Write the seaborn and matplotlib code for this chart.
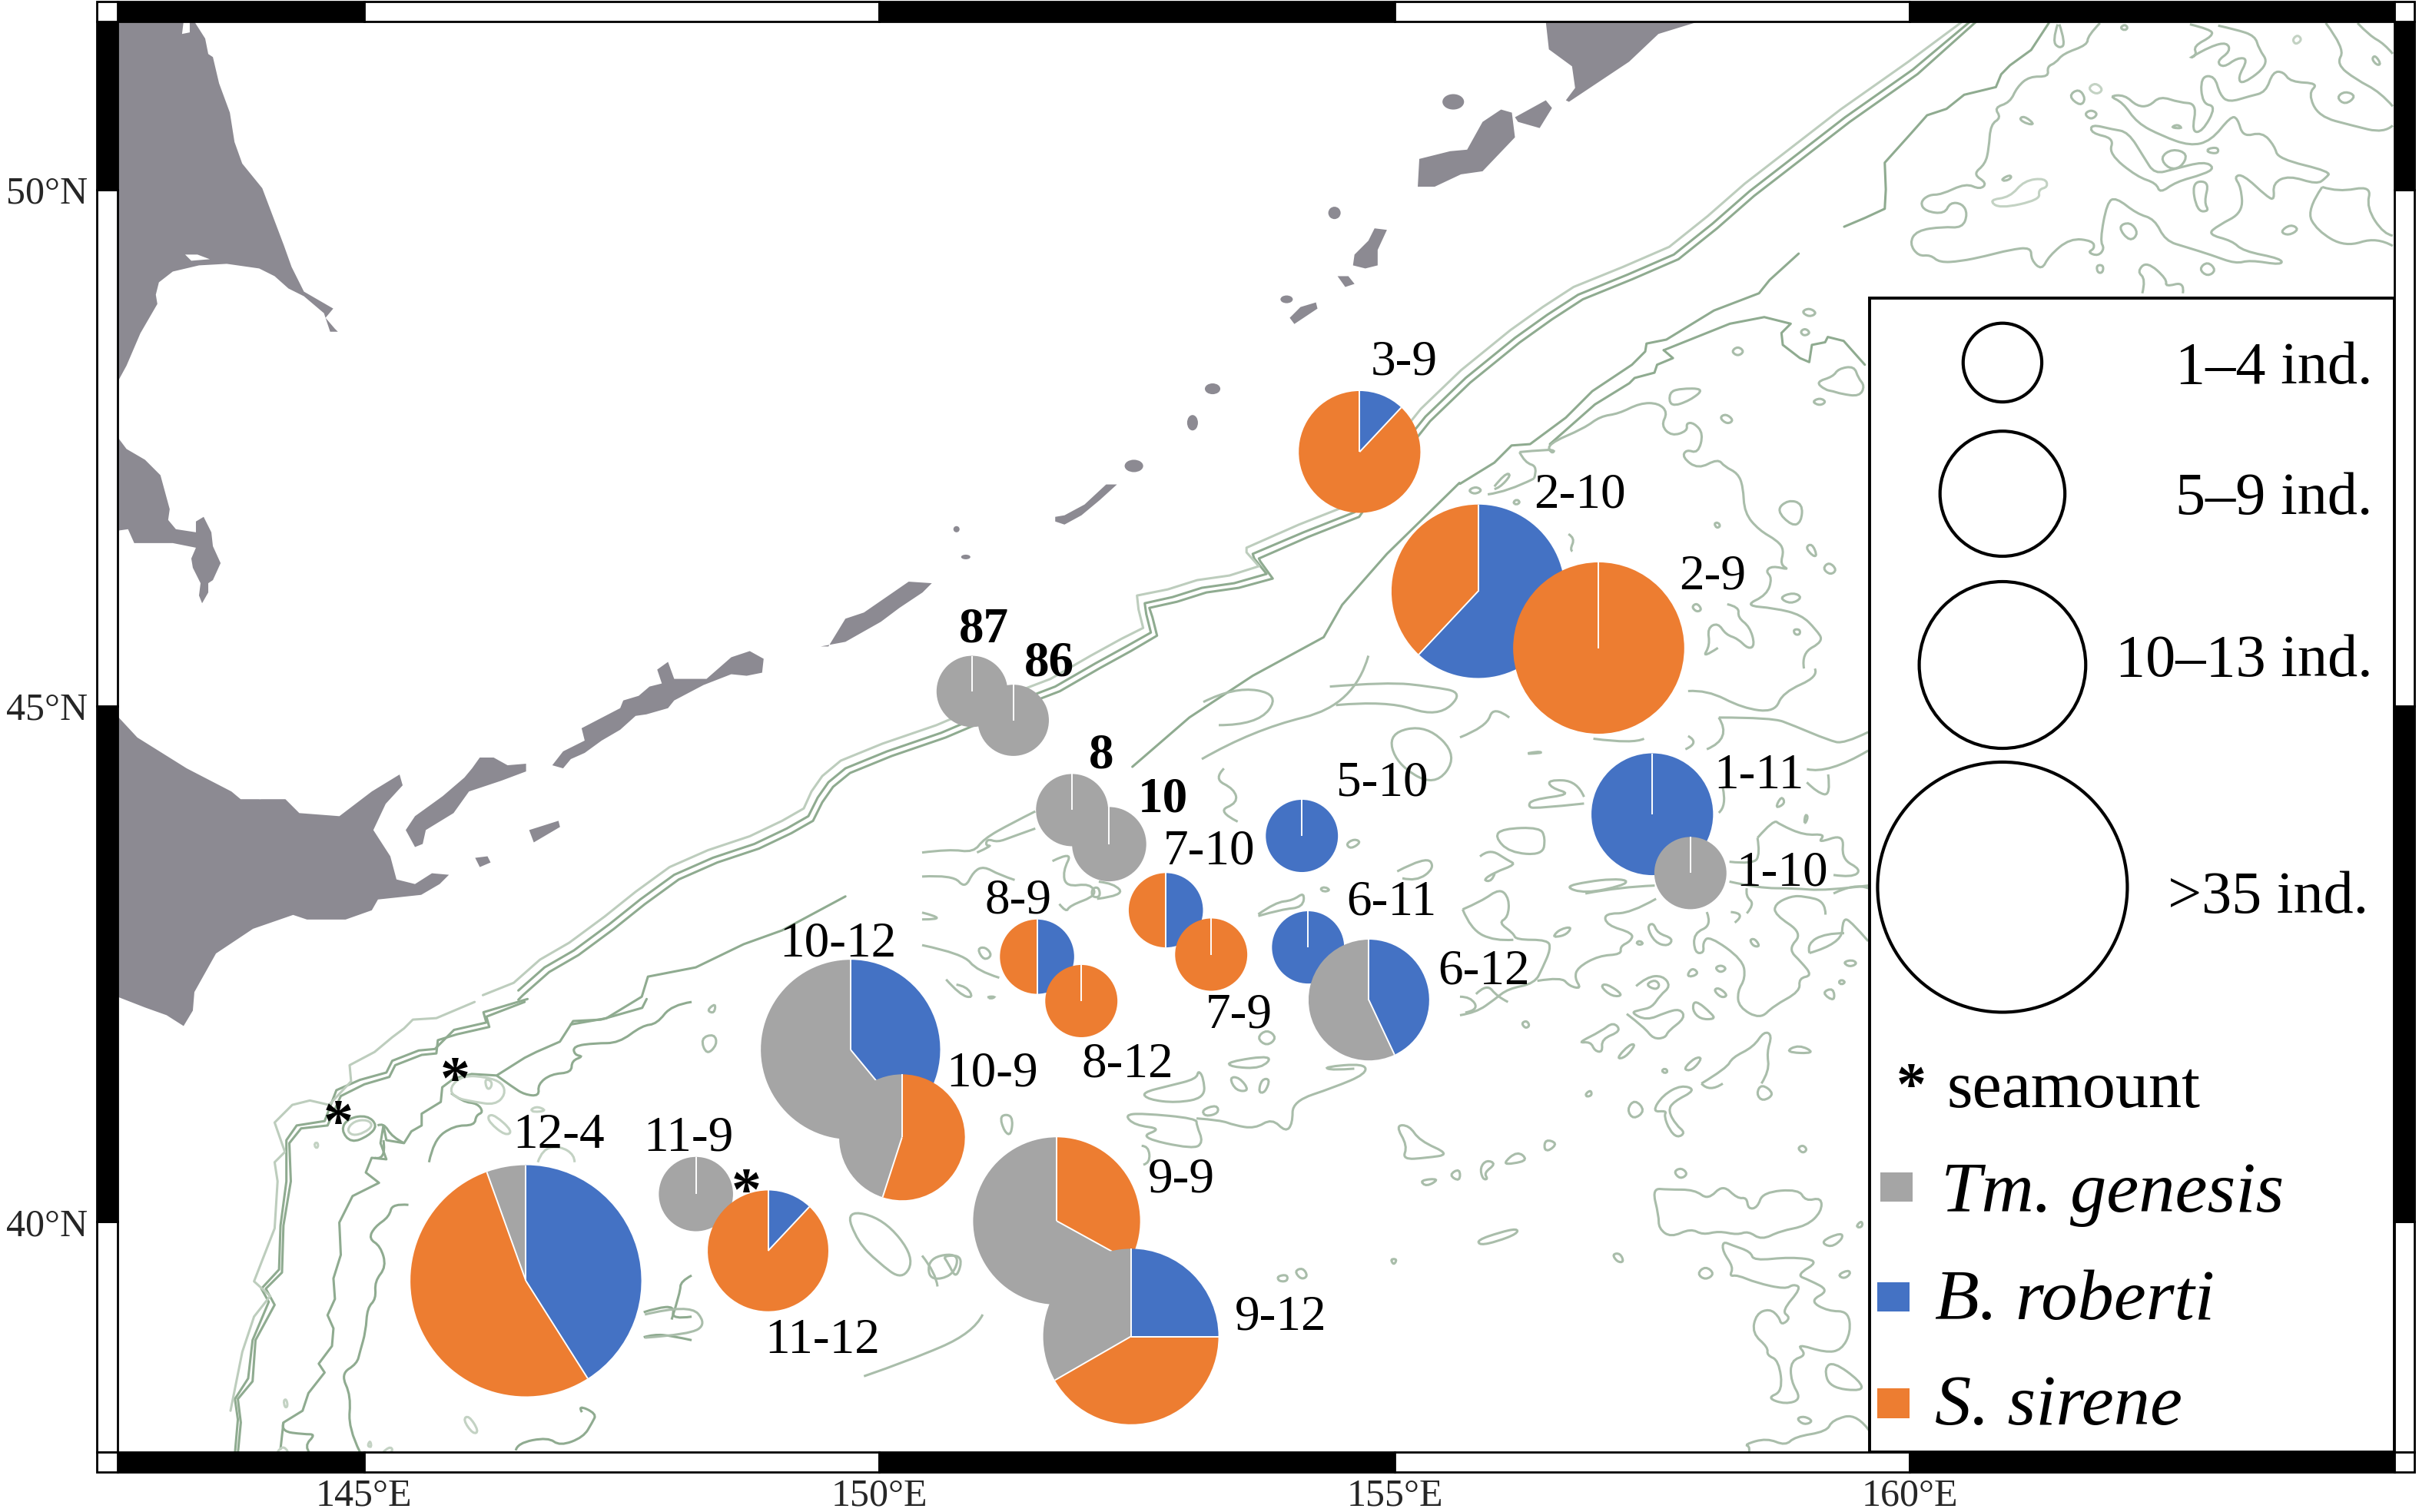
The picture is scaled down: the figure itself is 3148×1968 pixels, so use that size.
# Kuril-Kamchatka station map with species composition pies

import math

import matplotlib
matplotlib.use("Agg")
import matplotlib.pyplot as plt
from matplotlib.patches import Circle, Ellipse, PathPatch, Polygon, Rectangle
from matplotlib.path import Path
import pandas as pd
import seaborn as sns

# ==========================================================
# GEOREFERENCE OF THE DIGITISED OUTLINES (scan px -> degrees)
# ==========================================================

def to_lon(x):
    return 145 + (x - 236) / 66.8

def to_lat(y):
    return 40 + (792 - y) / 66.9

def from_tile(line, tile):
    # tiles were digitised at their own zoom, back to overview scan px
    ox, oy, sx, sy = tile
    return [((ox + x / sx) / 2.0077, (oy + y / sy) / 2.0077) for x, y in line]

def curved_path(line):
    # digitised vertices act as quadratic control points, so corners stay soft
    pts = [(to_lon(x), to_lat(y)) for x, y in line]
    closed = pts[0] == pts[-1] and len(pts) > 3
    if closed:
        pts = pts[:-1]
        mid = lambda a, b: ((a[0] + b[0]) / 2, (a[1] + b[1]) / 2)
        verts = [mid(pts[-1], pts[0])]
        codes = [Path.MOVETO]
        for i, p in enumerate(pts):
            verts += [p, mid(p, pts[(i + 1) % len(pts)])]
            codes += [Path.CURVE3, Path.CURVE3]
        return Path(verts, codes)
    verts = [pts[0]]
    codes = [Path.MOVETO]
    for i in range(1, len(pts) - 1):
        end = pts[i + 1] if i == len(pts) - 2 else ((pts[i][0] + pts[i + 1][0]) / 2, (pts[i][1] + pts[i + 1][1]) / 2)
        verts += [pts[i], end]
        codes += [Path.CURVE3, Path.CURVE3]
    if len(pts) == 2:
        verts.append(pts[1])
        codes.append(Path.LINETO)
    return Path(verts, codes)

# ==========================================================
# STATIONS
# ==========================================================

STATION = ["3-9", "2-10", "2-9", "87", "86", "8", "10", "5-10", "1-11", "1-10", "7-10", "7-9",
           "8-9", "8-12", "6-11", "6-12", "10-12", "10-9", "12-4", "11-9", "11-12", "9-9", "9-12"]
LON = [154.66, 155.81, 156.98, 150.90, 151.30, 151.87, 152.23, 154.10, 157.50, 157.87, 152.78, 153.22,
       151.53, 151.96, 154.16, 154.75, 149.72, 150.22, 146.57, 148.22, 148.92, 151.72, 152.44]
LAT = [47.46, 46.11, 45.56, 45.14, 44.86, 43.99, 43.66, 43.74, 43.95, 43.38, 43.02, 42.59,
       42.57, 42.14, 42.66, 42.15, 41.67, 40.82, 39.43, 40.27, 39.72, 40.01, 38.89]
RADIUS = [0.59, 0.84, 0.83, 0.345, 0.345, 0.35, 0.36, 0.35, 0.59, 0.35, 0.36, 0.35,
          0.36, 0.35, 0.35, 0.585, 0.87, 0.61, 1.12, 0.36, 0.585, 0.81, 0.85]
B_ROBERTI = [0.12, 0.62, 0, 0, 0, 0, 0, 1, 1, 0, 0.5, 0,
             0.5, 0, 1, 0.43, 0.39, 0, 0.41, 0, 0.12, 0, 0.25]
S_SIRENE = [0.88, 0.38, 1, 0, 0, 0, 0, 0, 0, 0, 0.5, 1,
            0.5, 1, 0, 0, 0, 0.55, 0.535, 0, 0.88, 0.33, 0.417]
TM_GENESIS = [0, 0, 0, 1, 1, 1, 1, 0, 0, 1, 0, 0,
              0, 0, 0, 0.57, 0.61, 0.45, 0.055, 1, 0, 0.67, 0.333]

BOLD_LABELS = ["87", "86", "8", "10"]
LABEL_SCAN = [(910, 235), (1024, 321), (1110, 374), (638, 408), (680, 430), (714, 490), (754, 518),
              (896, 508), (1140, 503), (1155, 566), (784, 552), (803, 658), (660, 584), (731, 690),
              (902, 585), (962, 630), (543, 612), (643, 696), (362, 736), (446, 738), (533, 869),
              (766, 765), (830, 854)]

SEAMOUNT_LON = [144.75, 145.88, 148.71]
SEAMOUNT_LAT = [41.06, 41.48, 40.40]

LON_TICKS = [145, 150, 155, 160]
LAT_TICKS = [40, 45, 50]

BLUE = "#4472C4"
ORANGE = "#ED7D31"
GRAY = "#A5A5A5"
LAND = "#8C8A92"

# ==========================================================
# COASTLINES (scan px)
# ==========================================================

LAND_OUTLINES = [
    [(76, 14), (126, 14), (133, 25), (135, 35), (138, 37), (142, 54), (149, 73), (152, 92), (157, 106),
     (170, 122), (184, 159), (189, 173), (197, 189), (216, 200), (211, 206), (217, 213), (219, 215),
     (214, 215), (210, 203), (197, 192), (187, 187), (178, 179), (168, 174), (147, 171), (129, 172),
     (112, 176), (103, 183), (101, 191), (102, 197), (91, 216), (82, 237), (76, 248)],
    [(76, 283), (82, 291), (94, 298), (104, 308), (110, 330), (109, 337), (114, 343), (127, 345),
     (127, 338), (132, 335), (137, 345), (138, 354), (143, 365), (138, 376), (135, 378), (135, 384),
     (131, 391), (129, 386), (130, 378), (125, 368), (124, 362), (127, 355), (112, 352), (87, 352),
     (83, 343), (76, 344)],
    [(76, 464), (89, 478), (121, 498), (150, 513), (156, 518), (185, 518), (194, 527), (220, 529),
     (241, 513), (259, 502), (261, 509), (250, 521), (242, 538), (253, 555), (257, 570), (269, 573),
     (280, 566), (291, 567), (285, 573), (273, 580), (245, 583), (241, 590), (224, 596), (199, 596),
     (190, 593), (164, 602), (140, 618), (126, 643), (125, 655), (119, 665), (108, 658), (94, 653),
     (76, 646)],
    [(263, 538), (269, 549), (274, 547), (276, 538), (294, 527), (304, 513), (325, 506), (341, 500),
     (341, 495), (329, 496), (320, 491), (311, 491), (306, 498), (301, 504), (287, 516), (269, 529)],
    [(343, 538), (362, 532), (363, 536), (346, 546)],
    [(308, 556), (316, 555), (318, 559), (311, 562)],
    [(358, 496), (365, 487), (379, 480), (377, 472), (402, 459), (404, 454), (414, 451), (421, 445),
     (429, 443), (426, 434), (433, 429), (437, 440), (458, 440), (474, 426), (486, 422), (495, 427),
     (494, 436), (484, 438), (474, 437), (456, 444), (437, 454), (433, 459), (419, 463), (412, 464),
     (402, 473), (390, 480), (379, 488), (370, 492), (365, 498)],
    [(532, 419), (537, 419), (548, 401), (560, 397), (589, 377), (604, 378), (598, 384), (583, 394),
     (571, 403), (548, 416)],
    [(684, 335), (690, 334), (703, 327), (717, 314), (724, 314), (713, 324), (701, 334), (690, 340),
     (684, 338)],
    [(836, 206), (843, 199), (853, 196), (854, 200), (839, 210)],
    [(867, 179), (874, 179), (878, 184), (872, 186)],
    [(891, 148), (899, 149), (893, 162), (893, 172), (885, 174), (877, 172), (878, 165), (887, 156)],
    [(919, 121), (920, 103), (940, 98), (951, 97), (961, 79), (973, 71), (980, 73), (982, 89),
     (961, 111), (947, 113), (930, 121)],
    [(982, 76), (1002, 65), (1006, 70), (998, 83), (984, 79)],
    [(1002, 14), (1004, 32), (1019, 43), (1021, 57), (1015, 65), (1017, 66), (1056, 40), (1075, 22),
     (1101, 14)],
]
LAKES = [
    [(120, 165), (128, 165), (136, 168), (124, 169)],
    [(119, 14), (123, 14), (123, 21), (118, 22)],
    [(156, 515), (170, 516), (169, 518), (157, 517)],
]
ISLETS = [(620, 343, 2, 2), (626, 361, 3, 1.5), (735, 302, 6, 4), (773, 274, 3.5, 5), (786, 252, 5, 3.5),
          (834, 194, 4, 2.5), (865, 138, 4, 4), (942, 66, 7, 5)]

# ==========================================================
# BATHYMETRY CONTOURS
# ==========================================================

# overview, scan px
SHELF_LINES = [
    [(336, 648), (339, 645), (356, 630), (375, 619), (398, 602), (418, 586), (440, 570), (465, 559),
     (492, 550), (513, 540), (527, 532), (533, 520), (540, 510), (551, 501), (578, 490), (613, 478),
     (653, 461), (687, 448), (713, 433), (733, 422), (750, 412), (747, 400), (745, 394), (763, 390),
     (782, 384), (803, 381), (825, 375), (817, 364), (816, 362), (848, 348), (881, 335), (903, 303),
     (927, 273), (953, 248), (985, 222), (1006, 207), (1026, 194), (1058, 181), (1088, 168),
     (1113, 148), (1137, 127), (1168, 103), (1199, 79), (1243, 48), (1281, 14)],
    [(336, 642), (353, 627), (372, 616), (395, 599), (415, 583), (437, 567), (462, 556),
     (489, 547), (510, 537), (524, 529), (530, 517), (537, 507), (548, 498), (575, 487), (610, 475),
     (650, 458), (684, 445), (710, 430), (730, 419), (746, 410), (743, 398), (742, 391), (760, 387),
     (779, 381), (800, 378), (821, 372), (813, 362), (812, 359), (845, 345), (878, 332), (900, 300),
     (924, 270), (950, 245), (982, 219), (1003, 204), (1023, 191), (1055, 178), (1085, 165),
     (1110, 145), (1134, 124), (1165, 100), (1196, 76), (1240, 45), (1277, 14)],
    [(370, 664), (393, 660), (416, 646), (420, 633), (451, 627), (482, 612), (507, 603), (548, 581)],
    [(734, 497), (771, 465), (812, 438), (858, 413), (870, 392), (899, 359), (946, 313)],
]
SHELF_LINES_LIGHT = [
    [(313, 645), (333, 637), (350, 622), (369, 611), (392, 594), (412, 578), (434, 562), (459, 551),
     (486, 542), (507, 532), (521, 524), (526, 513), (533, 503), (545, 493), (572, 482), (607, 470),
     (647, 453), (681, 440), (707, 425), (727, 414), (741, 407), (738, 395), (737, 386), (757, 382),
     (776, 376), (797, 373), (816, 367), (808, 358), (808, 355), (842, 340), (875, 327), (897, 295),
     (921, 265), (947, 240), (979, 214), (1000, 199), (1020, 186), (1052, 173), (1082, 160),
     (1107, 140), (1131, 119), (1162, 95), (1193, 71), (1237, 40), (1272, 14)],
]
OVERVIEW_LINES = [
    [(418, 852), (447, 845), (458, 858), (447, 865), (418, 867)],
    [(454, 673), (463, 670), (465, 677), (458, 684), (454, 673)],
    [(458, 655), (464, 650), (463, 657), (458, 655)],
    [(548, 784), (573, 790), (593, 815), (585, 830), (569, 818), (556, 805), (548, 784)],
    [(602, 815), (622, 812), (618, 827), (602, 830), (602, 815)],
    [(560, 892), (589, 882), (631, 864), (637, 852)],
    [(862, 445), (899, 442), (928, 445), (949, 449), (932, 465), (899, 454), (866, 457)],
    [(779, 492), (812, 473), (878, 457), (887, 425)],
    [(780, 455), (800, 445), (830, 450), (815, 470), (790, 470)],
    [(900, 475), (925, 470), (945, 490), (930, 510), (905, 495), (900, 475)],
]

# lower left tile
TILE_SW = (300, 1300, 2.613, 2.613)
SW_DARK = [
    [(25, 1545), (35, 1440), (25, 1360), (75, 1300), (85, 1160), (150, 1040), (120, 985), (175, 930),
     (180, 770), (205, 620), (200, 490), (240, 440), (330, 430), (375, 330), (455, 290), (540, 265),
     (560, 225), (650, 190), (700, 185), (705, 140), (770, 120), (880, 95), (870, 60), (1000, 10)],
    [(15, 1545), (25, 1430), (15, 1360), (60, 1290), (75, 1160), (130, 1030), (105, 985), (165, 920),
     (170, 770), (190, 620), (190, 480), (225, 430), (320, 415), (360, 310), (440, 275), (530, 250),
     (550, 210), (640, 175), (695, 170), (760, 105), (870, 80), (860, 45), (960, 15), (1010, 0)],
    [(170, 1530), (180, 1440), (245, 1400), (265, 1340), (320, 1270), (300, 1240), (345, 1180),
     (350, 1120), (330, 1075), (355, 1020), (350, 950), (375, 870), (370, 760), (415, 670), (505, 625),
     (460, 590), (480, 540), (530, 545), (510, 490), (520, 430), (530, 480), (590, 490), (615, 450),
     (650, 430), (650, 390), (715, 350), (720, 300), (760, 270), (820, 255), (905, 260), (1000, 200),
     (1040, 180), (1120, 145), (1165, 75), (1260, 70), (1400, 30), (1415, 0)],
    [(440, 1540), (400, 1460), (410, 1350), (375, 1275), (430, 1240), (440, 1200), (460, 1130),
     (465, 1050), (495, 1020), (490, 960), (530, 910), (510, 840), (470, 815), (490, 775), (540, 740),
     (550, 695), (605, 700)],
    [(675, 555), (690, 480), (760, 430), (830, 430), (835, 395), (860, 385), (840, 355), (790, 350),
     (750, 320)],
    [(905, 260), (960, 300), (1000, 325), (1050, 330), (1045, 290), (1090, 255), (1160, 250), (1160, 210),
     (1200, 195), (1170, 190), (1165, 160), (1240, 150), (1320, 150), (1400, 90), (1450, 85), (1500, 20),
     (1568, 10)],
    [(375, 445), (400, 405), (465, 395), (500, 430), (470, 465), (410, 490), (375, 445)],
    [(500, 430), (520, 420), (550, 470), (590, 490)],
    [(520, 480), (530, 550), (490, 540)],
    [(180, 1440), (170, 1470), (250, 1480), (290, 1480), (250, 1520), (270, 1545)],
    [(970, 1535), (975, 1510), (1080, 1490), (1120, 1520), (1200, 1490), (1230, 1440), (1245, 1410),
     (1180, 1380), (1195, 1405)],
    [(1405, 1150), (1440, 1140), (1500, 1145), (1568, 1160)],
    [(1405, 1065), (1450, 1050), (1510, 1045), (1500, 1090), (1568, 1080)],
    [(1500, 1090), (1530, 995), (1530, 960), (1568, 940)],
]
SW_LIGHT = [
    [(0, 1400), (40, 1200), (80, 1080), (135, 1010), (80, 960), (150, 780), (160, 620), (150, 555),
     (185, 520), (150, 420), (210, 360), (270, 345), (335, 360), (410, 280), (405, 225), (490, 180),
     (550, 130), (590, 100), (620, 70), (700, 65), (830, 10)],
    [(395, 445), (420, 415), (465, 410), (485, 430), (455, 455), (415, 465), (395, 445)],
    [(745, 300), (790, 260), (870, 265), (925, 285), (935, 325), (900, 360), (830, 350), (760, 335),
     (745, 300)],
    [(865, 270), (890, 280), (885, 305), (870, 305), (865, 270)],
    [(875, 395), (900, 395), (960, 450), (935, 465), (880, 420), (875, 395)],
    [(1045, 555), (1060, 510), (1120, 500), (1170, 530), (1170, 555)],
    [(1020, 375), (1045, 365), (1075, 380), (1030, 385), (1020, 375)],
    [(790, 1430), (810, 1415), (845, 1470), (825, 1480), (790, 1430)],
    [(180, 1365), (190, 1360), (195, 1385), (185, 1390), (180, 1365)],
    [(285, 490), (297, 488), (298, 505), (288, 506), (285, 490)],
    [(465, 1520), (475, 1500), (480, 1525), (465, 1520)],
    [(520, 1540), (540, 1520), (555, 1535), (540, 1545)],
    [(160, 1540), (180, 1510), (195, 1540)],
]

# centre tile
TILE_C = (1200, 1000, 2.24, 2.24)
C_LINES = [
    [(0, 245), (80, 235), (150, 245), (180, 205), (260, 160), (330, 125)],
    [(0, 315), (90, 310), (125, 350), (150, 300), (180, 285), (225, 310), (270, 325)],
    [(330, 175), (260, 200), (220, 215), (190, 205), (185, 225), (205, 225), (160, 245)],
    [(380, 270), (440, 240), (410, 300), (420, 345), (490, 335), (510, 370), (430, 400), (420, 420),
     (400, 395)],
    [(495, 350), (515, 345), (520, 375), (495, 375), (495, 350)],
    [(510, 380), (590, 370), (560, 335), (515, 330)],
    [(0, 515), (120, 540), (160, 590), (225, 610)],
    [(160, 525), (185, 520), (205, 545), (180, 560), (160, 525)],
    [(70, 615), (110, 660), (150, 670), (130, 635), (100, 630)],
    [(190, 665), (215, 665), (200, 672), (190, 665)],
    [(0, 420), (40, 430), (45, 440), (0, 440)],
    [(880, 0), (850, 30), (910, 60), (920, 100), (860, 125), (920, 155)],
    [(980, 425), (1030, 390), (1080, 385), (1115, 360), (1110, 405), (1050, 410), (980, 430)],
    [(1235, 220), (1260, 205), (1280, 215), (1250, 235), (1235, 220)],
    [(1160, 350), (1175, 345), (1190, 355), (1170, 360), (1160, 350)],
    [(1385, 300), (1470, 255), (1495, 290), (1440, 330), (1400, 320)],
    [(975, 785), (1005, 760), (1035, 785), (1005, 810), (975, 785)],
    [(890, 855), (1025, 835), (990, 875), (900, 870), (890, 855)],
    [(895, 900), (925, 900), (955, 940), (915, 940), (895, 900)],
    [(980, 945), (990, 905), (1015, 905), (1000, 945), (980, 945)],
    [(640, 945), (720, 925), (800, 905), (805, 880), (820, 900), (825, 960), (740, 975), (660, 965),
     (640, 945)],
    [(815, 995), (860, 980), (865, 1005), (825, 1015), (815, 995)],
    [(590, 1010), (640, 1005), (800, 1020), (800, 1040), (820, 1090), (790, 1110), (630, 1075), (700, 1050),
     (620, 1040), (590, 1010)],
    [(800, 1020), (870, 1025), (910, 1040), (970, 1050), (1020, 1020), (1060, 1060), (1080, 1035),
     (1080, 970), (1200, 930), (1295, 890), (1290, 860), (1170, 870), (1195, 880), (1260, 875)],
    [(225, 1010), (265, 1010), (260, 1070), (240, 1060), (225, 1010)],
    [(1380, 1040), (1420, 1040), (1450, 1085), (1540, 1125), (1470, 1135), (1400, 1140), (1415, 1100),
     (1380, 1040)],
    [(1450, 1200), (1510, 1195), (1470, 1220), (1450, 1200)],
    [(1535, 1185), (1568, 1165), (1568, 1205), (1535, 1185)],
    [(1085, 1465), (1110, 1455), (1125, 1480), (1105, 1490), (1085, 1465)],
    [(1035, 1480), (1065, 1475), (1065, 1495), (1040, 1495), (1035, 1480)],
    [(1365, 1430), (1385, 1430), (1375, 1448), (1365, 1430)],
    [(0, 1420), (40, 1470), (45, 1510)],
    [(60, 1420), (120, 1420), (100, 1490), (75, 1440), (60, 1420)],
    [(640, 1100), (660, 1100), (665, 1150), (645, 1155)],
]

# north-east of the 2-x stations
TILE_NE = (1900, 330, 2.904, 2.904)
NE_DARK = [
    [(0, 870), (130, 790), (195, 725), (265, 720), (400, 620), (500, 520), (650, 420), (700, 370),
     (705, 340), (780, 325), (960, 215), (1130, 150), (1170, 100), (1280, 0)],
    [(770, 365), (1020, 265), (1150, 240), (1250, 265), (1215, 300), (1220, 345), (1285, 395), (1320, 410),
     (1330, 345), (1380, 335), (1390, 315), (1450, 330), (1530, 420)],
    [(770, 365), (805, 395), (745, 420), (735, 450), (660, 470), (640, 490), (510, 570), (340, 720)],
]
NE_LINES = [
    [(225, 750), (330, 740), (360, 745), (345, 755), (330, 720), (470, 660), (530, 615), (600, 605),
     (680, 565), (750, 565), (785, 600), (760, 650), (800, 690), (860, 670), (855, 640), (885, 640),
     (920, 680), (900, 755), (855, 740), (840, 770), (900, 815), (975, 775), (1000, 805), (1050, 830),
     (1070, 880), (1075, 980), (1130, 1045), (1200, 1085), (1225, 1120), (1210, 1175), (1245, 1195),
     (1180, 1180), (1155, 1200), (1180, 1225), (1160, 1290), (1075, 1330), (1190, 1340), (1290, 1365),
     (1345, 1420), (1375, 1465), (1290, 1510), (1300, 1568)],
    [(1345, 485), (1410, 465), (1430, 435), (1490, 425), (1505, 470), (1530, 500), (1510, 540), (1440, 530),
     (1410, 520), (1380, 515), (1345, 485)],
    [(790, 525), (830, 510), (925, 510), (870, 555), (795, 580), (790, 525)],
    [(1025, 370), (1050, 350), (1075, 370), (1050, 388), (1025, 370)],
    [(1290, 220), (1320, 205), (1350, 225), (1320, 240), (1290, 220)],
    [(1285, 295), (1305, 282), (1325, 300), (1300, 312), (1285, 295)],
    [(980, 620), (1005, 605), (1035, 630), (1010, 645), (980, 620)],
    [(1195, 970), (1240, 930), (1295, 945), (1290, 1015), (1255, 1030), (1195, 970)],
    [(1305, 1110), (1330, 1095), (1350, 1140), (1335, 1145), (1305, 1110)],
    [(1370, 1190), (1395, 1165), (1425, 1195), (1400, 1215), (1370, 1190)],
    [(1205, 1300), (1260, 1280), (1295, 1300), (1250, 1325), (1205, 1300)],
    [(1330, 560), (1360, 545), (1385, 560), (1360, 575), (1330, 560)],
    [(875, 1335), (895, 1320), (915, 1345), (895, 1355), (875, 1335)],
    [(130, 880), (170, 830), (195, 835), (150, 885), (130, 890)],
    [(30, 895), (60, 880), (85, 895), (55, 910), (30, 895)],
    [(200, 940), (215, 928), (228, 940), (212, 950), (200, 940)],
    [(1010, 1325), (1055, 1335), (1050, 1375), (1095, 1410), (1115, 1480), (1090, 1495), (1050, 1455),
     (1005, 1440), (975, 1395), (935, 1415), (945, 1480), (915, 1530), (975, 1490)],
    [(410, 1060), (435, 1075), (415, 1120), (425, 1125)],
    [(105, 910), (180, 900), (280, 850)],
    [(225, 750), (245, 790), (295, 805), (280, 850)],
    [(1260, 1420), (1285, 1420), (1285, 1440), (1265, 1440), (1260, 1420)],
    [(960, 1020), (975, 1015), (985, 1030), (970, 1038), (960, 1020)],
]

# east of the stations
TILE_E = (1900, 870, 2.88, 2.904)
E_LINES = [
    [(0, 260), (100, 220), (125, 140), (185, 185)],
    [(855, 85), (925, 80), (1060, 150), (1180, 165), (1210, 90), (1345, 30), (1330, 0)],
    [(970, 185), (1170, 185), (1250, 215), (1380, 270), (1440, 285), (1530, 240)],
    [(970, 185), (1020, 265), (925, 305)],
    [(500, 265), (650, 285), (690, 265)],
    [(845, 305), (900, 280), (855, 255)],
    [(255, 320), (295, 312), (310, 320), (255, 322)],
    [(465, 485), (440, 425), (330, 420), (340, 450), (420, 475), (270, 495), (255, 520), (280, 530),
     (465, 510)],
    [(130, 635), (160, 605), (300, 600), (320, 640), (310, 705), (185, 695), (130, 635)],
    [(75, 710), (110, 680), (180, 725), (210, 740), (130, 770), (85, 800), (120, 805), (130, 775)],
    [(390, 825), (480, 805), (570, 795), (630, 800), (610, 820), (470, 850), (390, 825)],
    [(470, 850), (600, 825), (730, 820)],
    [(10, 910), (80, 880), (150, 830), (185, 870), (180, 940), (145, 960), (200, 1000), (210, 1025),
     (330, 1025), (340, 1060), (310, 1130), (280, 1190), (180, 1210), (130, 1250), (60, 1300), (0, 1310)],
    [(10, 910), (40, 985), (130, 1030), (200, 1025)],
    [(735, 870), (640, 925), (540, 925), (550, 970), (650, 1000), (640, 1030), (600, 1050), (605, 1080),
     (520, 1085), (440, 1130), (430, 1170), (455, 1210), (410, 1200), (380, 1165), (290, 1180)],
    [(700, 975), (725, 960), (740, 1000), (800, 1020), (780, 1050), (730, 1035), (700, 975)],
    [(925, 920), (945, 970), (875, 1000), (880, 1075), (915, 1075), (910, 1035), (935, 1010), (1060, 1100),
     (1070, 1170), (1040, 1220), (1045, 1280), (1125, 1325), (1175, 1275), (1275, 1220), (1270, 1170),
     (1320, 1160), (1280, 1110), (1230, 1060), (1285, 1000), (1180, 930), (1180, 890), (1240, 860),
     (1290, 860), (1370, 880), (1370, 930)],
    [(1015, 920), (1075, 925), (1030, 960)],
    [(1075, 830), (1070, 860), (1105, 890), (1075, 925)],
    [(1115, 640), (1175, 570), (1200, 590), (1290, 630), (1370, 625), (1340, 660), (1440, 625), (1430, 720),
     (1505, 760), (1470, 790), (1400, 780)],
    [(1010, 730), (1100, 740), (1125, 700), (1115, 640)],
    [(1010, 805), (1120, 830), (1250, 830), (1370, 840), (1530, 820)],
    [(1400, 850), (1480, 810), (1530, 830)],
    [(1310, 1075), (1430, 1040), (1435, 940), (1470, 960), (1530, 1030)],
    [(1310, 1075), (1300, 1040), (1370, 1000), (1440, 1000)],
    [(985, 450), (1000, 520), (970, 545)],
    [(1300, 380), (1380, 400), (1530, 310)],
    [(1380, 400), (1390, 480), (1340, 470), (1300, 430)],
    [(1180, 530), (1205, 480), (1220, 510), (1180, 530)],
    [(1290, 580), (1295, 550), (1305, 560), (1295, 585), (1290, 580)],
    [(350, 1010), (375, 985), (420, 975), (400, 1005), (360, 1015), (350, 1010)],
    [(660, 1035), (675, 1028), (688, 1040), (670, 1045), (660, 1035)],
    [(1085, 1025), (1105, 1020), (1125, 1050), (1100, 1050), (1085, 1025)],
    [(850, 1160), (870, 1130), (895, 1150), (870, 1165), (850, 1160)],
    [(955, 1130), (980, 1120), (1000, 1135), (975, 1150), (955, 1130)],
    [(525, 1200), (550, 1190), (615, 1235), (570, 1240), (525, 1200)],
    [(950, 1215), (970, 1205), (1005, 1235), (980, 1245), (950, 1215)],
    [(870, 1290), (880, 1250), (945, 1305), (955, 1325), (900, 1325), (870, 1290)],
    [(1355, 1225), (1400, 1205), (1405, 1260), (1355, 1225)],
    [(1435, 1110), (1470, 1100), (1490, 1115), (1460, 1128), (1435, 1110)],
    [(1418, 1185), (1430, 1175), (1445, 1185), (1430, 1195), (1418, 1185)],
    [(660, 1200), (700, 1165), (760, 1160), (790, 1200), (750, 1235), (720, 1280), (675, 1290), (640, 1300),
     (700, 1330), (770, 1300), (825, 1285), (845, 1320), (780, 1370), (770, 1395), (725, 1400), (690, 1355),
     (625, 1305)],
    [(695, 1195), (730, 1175), (750, 1195), (735, 1215), (695, 1195)],
    [(440, 1415), (530, 1370), (575, 1335), (605, 1370), (530, 1400), (535, 1450), (505, 1445), (490, 1410),
     (440, 1415)],
    [(585, 1475), (635, 1420), (660, 1420), (620, 1470), (585, 1475)],
    [(835, 1515), (880, 1470), (910, 1470), (870, 1520), (835, 1515)],
    [(1215, 1450), (1270, 1420), (1335, 1455), (1215, 1450)],
    [(230, 1340), (250, 1330), (262, 1350), (245, 1360), (230, 1340)],
    [(905, 1568), (1000, 1510), (1020, 1470), (1100, 1430), (1140, 1370), (1170, 1385), (1150, 1450),
     (1160, 1520), (1130, 1568)],
    [(755, 1520), (768, 1510), (780, 1522), (768, 1530), (755, 1520)],
    [(0, 1240), (40, 1240), (70, 1290), (20, 1300)],
    [(60, 1230), (100, 1190), (140, 1240), (180, 1260)],
]

# south-east corner
TILE_SE = (1900, 1410, 2.88, 2.97)
SE_LINES = [
    [(720, 405), (780, 410), (880, 410), (930, 450), (985, 390), (1040, 445), (1075, 440), (1080, 485),
     (1115, 480), (1135, 420), (1270, 408), (1295, 455), (1355, 440), (1355, 495), (1300, 550), (1200, 570),
     (1130, 605), (1080, 570), (1040, 585), (970, 570), (910, 585), (865, 560), (790, 595), (745, 560),
     (745, 510), (720, 405)],
    [(985, 610), (1020, 625), (1090, 650), (1100, 685), (1240, 670), (1350, 685), (1260, 740), (1310, 760),
     (1385, 800), (1310, 840), (1380, 880), (1455, 880), (1465, 960), (1430, 1030), (1370, 1040), (1260, 1005),
     (1300, 1050), (1240, 1070), (1240, 1150), (1280, 1220), (1220, 1240), (1150, 1215), (1210, 1190),
     (1195, 1070), (1150, 1050), (1155, 1020), (1095, 965), (1110, 890), (1160, 870), (1195, 900), (1205, 935),
     (1240, 905), (1205, 880), (1280, 790), (1250, 775), (1220, 795), (1110, 770), (1040, 740), (1010, 745),
     (1025, 710), (985, 650), (985, 610)],
    [(720, 110), (760, 45), (830, 5), (885, 25), (800, 70), (780, 105), (810, 160), (845, 190), (815, 210),
     (785, 180), (765, 125), (775, 105), (720, 110)],
    [(625, 100), (655, 60), (695, 105), (650, 140), (625, 100)],
    [(1110, 40), (1130, 0), (1180, 40), (1135, 70), (1110, 40)],
    [(905, 0), (935, 35), (985, 0)],
    [(160, 310), (215, 260), (255, 295), (200, 310), (160, 310)],
    [(75, 325), (100, 295), (135, 310), (90, 345), (105, 370), (85, 370), (75, 325)],
    [(315, 255), (320, 215), (365, 230), (335, 260), (315, 255)],
    [(65, 605), (150, 575), (215, 560), (215, 580), (140, 610), (75, 625), (65, 605)],
    [(570, 660), (600, 655), (615, 690), (590, 690), (570, 660)],
    [(800, 340), (830, 325), (855, 350), (825, 370), (800, 340)],
    [(1265, 250), (1285, 237), (1302, 255), (1285, 270), (1265, 250)],
    [(888, 735), (920, 705), (955, 735), (920, 760), (888, 735)],
    [(1350, 610), (1430, 575), (1435, 600), (1390, 635), (1350, 610)],
    [(1365, 1100), (1400, 1075), (1500, 1150), (1510, 1190), (1385, 1175), (1365, 1100)],
    [(1260, 1295), (1290, 1285), (1325, 1305), (1290, 1320), (1260, 1295)],
    [(1080, 1440), (1090, 1405), (1065, 1395), (1150, 1370), (1220, 1400), (1255, 1365), (1375, 1345),
     (1395, 1300), (1490, 1275), (1540, 1350)],
    [(1415, 740), (1455, 720), (1465, 735), (1440, 755), (1415, 740)],
    [(470, 40), (490, 25), (495, 45), (475, 52), (470, 40)],
    [(1485, 550), (1505, 530), (1510, 550), (1495, 558), (1485, 550)],
]

# top right corner, above the legend
TILE_TR = (2400, 30, 2.178, 3.0)
TR_DARK = [
    [(0, 795), (60, 760), (115, 725), (118, 650), (115, 545), (190, 430), (235, 360), (290, 335), (340, 280),
     (430, 250), (445, 200), (470, 165), (530, 105), (580, 0)],
]
TR_LINES = [
    [(605, 5), (590, 70), (610, 100), (628, 80), (610, 5)],
    [(725, 0), (690, 50), (690, 85), (620, 120), (600, 155), (575, 170), (580, 210), (525, 208), (490, 250),
     (470, 310), (425, 330), (445, 370), (415, 395), (410, 490), (400, 550), (365, 590), (405, 625), (385, 650),
     (345, 625), (275, 670), (240, 670), (215, 700), (230, 735), (285, 745), (300, 700), (335, 705), (350, 745),
     (335, 800), (280, 795), (205, 810), (185, 860), (210, 910), (245, 905), (270, 935), (330, 930), (400, 910),
     (470, 885), (530, 875), (530, 925), (560, 965), (580, 910), (640, 840), (705, 850), (710, 880), (690, 895),
     (720, 910), (738, 880), (725, 850), (745, 700), (770, 680), (830, 745), (880, 765), (910, 850), (970, 875),
     (1040, 905), (1110, 940), (1150, 925), (1240, 945), (1240, 920), (1130, 890), (1100, 850), (1030, 825),
     (1060, 790), (1130, 740), (1125, 640), (1105, 600), (1130, 590), (1200, 680), (1220, 690), (1215, 625),
     (1260, 595), (1340, 630), (1365, 605), (1380, 580), (1230, 530), (1220, 480), (1185, 425), (1130, 445),
     (1115, 370), (1095, 365), (1040, 460), (980, 480), (900, 440), (830, 390), (790, 310), (750, 285), (795, 280),
     (830, 325), (865, 325), (895, 285), (950, 310), (1000, 315), (985, 425), (1015, 425), (1055, 325), (1015, 315),
     (1010, 210), (1050, 205), (1065, 280), (1090, 310), (1150, 285), (1195, 270), (1215, 190), (1245, 190),
     (1265, 230), (1345, 235), (1315, 275), (1345, 365), (1440, 400), (1530, 430), (1555, 400)],
    [(980, 5), (1040, 25), (1045, 50), (990, 90), (1000, 125), (975, 140), (1040, 90), (1085, 75), (1095, 110),
     (1055, 150), (1075, 175), (1115, 135), (1145, 140), (1115, 215), (1130, 240), (1205, 160), (1175, 100),
     (1165, 50), (1110, 25), (1060, 10)],
    [(1365, 0), (1420, 100), (1395, 160), (1450, 220), (1520, 270), (1555, 325)],
    [(1455, 0), (1490, 50), (1530, 80), (1555, 120)],
    [(700, 395), (760, 415), (805, 425), (850, 525), (880, 590), (935, 570), (1020, 540), (1050, 565), (1020, 590),
     (940, 620), (895, 665), (885, 625), (830, 600), (750, 510), (765, 450), (700, 430), (700, 395)],
    [(895, 525), (930, 490), (975, 510), (955, 565), (920, 570), (895, 525)],
    [(985, 620), (1035, 618), (1020, 700), (1035, 735), (1000, 735), (985, 620)],
    [(1355, 640), (1400, 660), (1495, 635), (1480, 720), (1530, 825), (1555, 830)],
    [(1355, 640), (1310, 730), (1340, 810), (1420, 875), (1510, 835), (1555, 870)],
    [(635, 285), (665, 255), (685, 295), (670, 325), (635, 285)],
    [(680, 355), (700, 338), (720, 355), (700, 378), (680, 355)],
    [(495, 375), (510, 362), (540, 395), (520, 395), (495, 375)],
    [(1395, 290), (1420, 265), (1452, 285), (1420, 320), (1395, 290)],
    [(1235, 815), (1265, 785), (1290, 805), (1260, 830), (1235, 815)],
    [(1005, 960), (1030, 930), (1055, 965), (1030, 990), (1005, 960)],
    [(1495, 140), (1505, 125), (1522, 160), (1510, 165), (1495, 140)],
    [(925, 408), (945, 395), (960, 412), (925, 408)],
    [(1030, 490), (1060, 485), (1060, 510), (1030, 505), (1030, 490)],
    [(775, 795), (810, 775), (835, 820), (810, 855), (775, 795)],
    [(445, 610), (470, 592), (475, 605), (455, 618), (445, 610)],
    [(795, 5), (805, 18), (795, 30), (782, 18), (795, 5)],
    [(845, 1055), (855, 1000), (830, 970), (858, 930), (915, 1000), (910, 1030), (965, 1010), (960, 1055)],
    [(715, 945), (735, 945), (733, 975), (718, 975), (715, 945)],
]
TR_LIGHT = [
    [(690, 255), (712, 232), (735, 260), (715, 280), (690, 255)],
    [(1270, 65), (1285, 45), (1298, 65), (1280, 85), (1270, 65)],
    [(410, 690), (470, 680), (510, 615), (570, 605), (578, 640), (550, 650), (555, 690), (440, 725), (410, 690)],
]

# ==========================================================
# LEGEND (scan px)
# ==========================================================

SIZE_LABELS = ["1\u20134 ind.", "5\u20139 ind.", "10\u201313 ind.", ">35 ind."]
SIZE_RADIUS = [25.5, 40.5, 54, 81]
SIZE_CIRCLE_Y = [235, 320, 431, 575]
SIZE_LABEL_Y = [239, 324, 429, 582]
SIZE_LABEL_RIGHT = [1538, 1538, 1538, 1535]
SPECIES_LABELS = ["Tm. genesis", "B. roberti", "S. sirene"]
SPECIES_COLORS = [GRAY, BLUE, ORANGE]
SPECIES_LABEL_X = [1258, 1254, 1254]
SPECIES_LABEL_Y = [774, 844, 912]
SWATCH_X = [1219, 1217, 1217]
SWATCH_Y = [760, 831, 900]

# ==========================================================
# FIGURE
# ==========================================================

sns.set_theme(style="white")
plt.rcParams["font.family"] = ["Liberation Serif", "DejaVu Serif"]

fig = plt.figure(figsize=(15.74, 9.84), dpi=200)
ax = fig.add_axes([76 / 1568, 1 - 941 / 980, (1552 - 76) / 1568, (941 - 14) / 980])

# coast
for outline in LAND_OUTLINES:
    ax.add_patch(Polygon([(to_lon(x), to_lat(y)) for x, y in outline], closed=True,
                         facecolor=LAND, edgecolor="none", zorder=1))
for outline in LAKES:
    ax.add_patch(Polygon([(to_lon(x), to_lat(y)) for x, y in outline], closed=True,
                         facecolor="white", edgecolor="none", zorder=1.1))
for cx, cy, rx, ry in ISLETS:
    ax.add_patch(Ellipse((to_lon(cx), to_lat(cy)), 2 * rx / 66.8, 2 * ry / 66.9,
                         facecolor=LAND, edgecolor="none", zorder=1))

# bathymetry, long shelf lines
shelf_groups = [
    ("dark", SHELF_LINES),
    ("light", SHELF_LINES_LIGHT),
    ("dark", [from_tile(l, TILE_NE) for l in NE_DARK]),
    ("dark", [from_tile(l, TILE_TR) for l in TR_DARK]),
    ("dark", [from_tile(l, TILE_SW) for l in SW_DARK[:3]]),
    ("light", [from_tile(l, TILE_SW) for l in SW_LIGHT[:1]]),
]
rows = []
line_id = 0
for shade, lines in shelf_groups:
    for line in lines:
        for x, y in line:
            rows.append({"line": line_id, "shade": shade, "lon": to_lon(x), "lat": to_lat(y)})
        line_id += 1
contours = pd.DataFrame(rows)

sns.lineplot(
    data=contours,
    x="lon",
    y="lat",
    units="line",
    hue="shade",
    palette={"dark": "#8FAB90", "light": "#BDCDBD"},
    estimator=None,
    sort=False,
    legend=False,
    linewidth=1.1,
    solid_joinstyle="round",
    zorder=2,
    ax=ax
)

# bathymetry, the small closed contours
soft_groups = [
    ("#8FAB90", [from_tile(l, TILE_SW) for l in SW_DARK[3:]]),
    ("#C3D2C3", [from_tile(l, TILE_SW) for l in SW_LIGHT[1:]]),
    ("#A9BDAA", OVERVIEW_LINES),
    ("#A9BDAA", [from_tile(l, TILE_C) for l in C_LINES]),
    ("#A9BDAA", [from_tile(l, TILE_NE) for l in NE_LINES]),
    ("#A9BDAA", [from_tile(l, TILE_E) for l in E_LINES]),
    ("#A9BDAA", [from_tile(l, TILE_SE) for l in SE_LINES]),
    ("#A9BDAA", [from_tile(l, TILE_TR) for l in TR_LINES]),
    ("#C3D2C3", [from_tile(l, TILE_TR) for l in TR_LIGHT]),
]
for colour, lines in soft_groups:
    for line in lines:
        ax.add_patch(PathPatch(curved_path(line), facecolor="none", edgecolor=colour,
                               linewidth=1.1, zorder=2))

# station pies, later ones on top
for i, name in enumerate(STATION):
    shares = [B_ROBERTI[i], S_SIRENE[i], TM_GENESIS[i]]
    ax.pie(
        shares,
        center=(LON[i], LAT[i]),
        radius=RADIUS[i],
        colors=[BLUE, ORANGE, GRAY],
        startangle=90,
        counterclock=False,
        frame=True,
        wedgeprops={"edgecolor": "none", "linewidth": 0, "zorder": 5 + i * 0.1}
    )
    # separators only, the rim stays without outline
    start = 0.0
    for share in shares:
        if share > 0:
            angle = math.radians(start * 360)
            ax.plot([LON[i], LON[i] + RADIUS[i] * math.sin(angle)],
                    [LAT[i], LAT[i] + RADIUS[i] * math.cos(angle)],
                    color="white", linewidth=0.7, solid_capstyle="butt", zorder=5.05 + i * 0.1)
        start += share
    x, y = LABEL_SCAN[i]
    ax.text(to_lon(x), to_lat(y), name, fontsize=23.5, ha="center", va="center", color="black",
            fontweight="bold" if name in BOLD_LABELS else "normal", zorder=20)

for lon, lat in zip(SEAMOUNT_LON, SEAMOUNT_LAT):
    ax.annotate("*", xy=(lon, lat), xytext=(0, -13), textcoords="offset points", fontsize=28,
                fontweight="bold", ha="center", va="baseline", color="black", zorder=21)

# graticule band around the map
x0, x1 = to_lon(76), to_lon(1552)
y0, y1 = to_lat(941), to_lat(14)
band_x = 13 / 66.8
band_y = 13 / 66.9
lon_edges = [x0] + LON_TICKS + [x1]
lat_edges = [y0] + LAT_TICKS + [y1]

for i in range(len(lon_edges) - 1):
    face = "black" if i % 2 == 0 else "white"
    for yb in (y0 - band_y, y1):
        ax.add_patch(Rectangle((lon_edges[i], yb), lon_edges[i + 1] - lon_edges[i], band_y, facecolor=face,
                               edgecolor="black", linewidth=1.0, clip_on=False, zorder=40))
for i in range(len(lat_edges) - 1):
    face = "white" if i % 2 == 0 else "black"
    for xb in (x0 - band_x, x1):
        ax.add_patch(Rectangle((xb, lat_edges[i]), band_x, lat_edges[i + 1] - lat_edges[i], facecolor=face,
                               edgecolor="black", linewidth=1.0, clip_on=False, zorder=40))
for xb in (x0 - band_x, x1):
    for yb in (y0 - band_y, y1):
        ax.add_patch(Rectangle((xb, yb), band_x, band_y, facecolor="white", edgecolor="black",
                               linewidth=1.0, clip_on=False, zorder=40))

# legend box
ax.add_patch(Rectangle((to_lon(1212), to_lat(941)), (1552 - 1212) / 66.8, (941 - 193) / 66.9,
                       facecolor="white", edgecolor="black", linewidth=1.4, zorder=30))
for i, label in enumerate(SIZE_LABELS):
    ax.add_patch(Circle((to_lon(1298), to_lat(SIZE_CIRCLE_Y[i])), SIZE_RADIUS[i] / 66.85,
                        facecolor="none", edgecolor="black", linewidth=1.5, zorder=31))
    ax.text(to_lon(SIZE_LABEL_RIGHT[i]), to_lat(SIZE_LABEL_Y[i]), label, fontsize=28.2,
            ha="right", va="center", color="black", zorder=31)

ax.annotate("*", xy=(to_lon(1239), to_lat(697)), xytext=(0, -13), textcoords="offset points", fontsize=28,
            fontweight="bold", ha="center", va="baseline", color="black", zorder=31)
ax.text(to_lon(1262), to_lat(707), "seamount", fontsize=31, ha="left", va="center", color="black", zorder=31)

for i, label in enumerate(SPECIES_LABELS):
    ax.add_patch(Rectangle((to_lon(SWATCH_X[i]), to_lat(SWATCH_Y[i] + 19)), 21 / 66.8, 19 / 66.9,
                           facecolor=SPECIES_COLORS[i], edgecolor="none", zorder=31))
    ax.text(to_lon(SPECIES_LABEL_X[i]), to_lat(SPECIES_LABEL_Y[i]), label, fontsize=34, style="italic",
            ha="left", va="center", color="black", zorder=31)

# axes
ax.set_aspect("auto")
ax.set_xlim(x0, x1)
ax.set_ylim(y0, y1)
ax.set_xlabel("")
ax.set_ylabel("")
ax.set_xticks(LON_TICKS)
ax.set_xticklabels([f"{v}\u00b0E" for v in LON_TICKS], fontsize=18)
ax.set_yticks(LAT_TICKS)
ax.set_yticklabels([f"{v}\u00b0N" for v in LAT_TICKS], fontsize=18)
ax.tick_params(axis="x", length=0, pad=12.5)
ax.tick_params(axis="y", length=0, pad=14)
sns.despine(ax=ax, left=True, bottom=True)

fig.savefig("out.png", dpi=200)
plt.close(fig)
